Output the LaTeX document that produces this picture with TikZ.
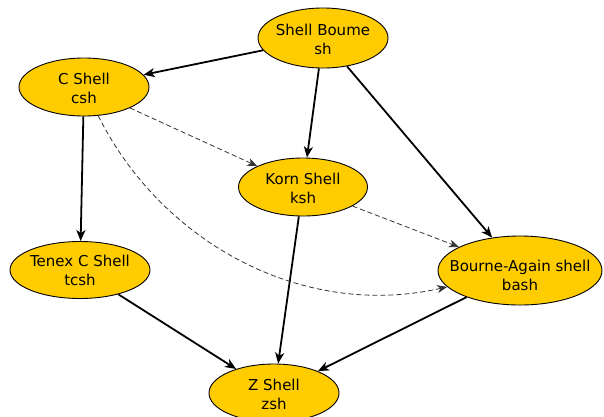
\documentclass[tikz,border=0pt]{standalone}
\usepackage{fontspec}
\setmainfont{DejaVu Sans}
\usetikzlibrary{shapes.geometric,arrows.meta}
\definecolor{shellgold}{RGB}{255,204,0}
% two centred lines that do not widen the ellipse around them;
% the first argument is a strut height that lowers the text a little
\newcommand{\shelllabel}[3]{\rule{0pt}{#1}\makebox[0pt]{#2}\\\makebox[0pt]{#3}}
\begin{document}
\begin{tikzpicture}[x=1pt,y=-1pt,
  shellnode/.style={ellipse,draw=black,line width=0.9pt,fill=shellgold,
    inner sep=0pt,align=center,font=\fontsize{15}{19}\selectfont},
  derive/.style={line width=1.8pt,-{Stealth[length=11pt,width=9pt,inset=3pt]}},
  influence/.style={line width=0.8pt,draw=black!80,dash pattern=on 5pt off 3pt,
    -{Stealth[length=10pt,width=8pt,inset=3pt]}}]
  \useasboundingbox[fill=white] (0,0) rectangle (604,416);

  \node[shellnode,minimum width=130pt,minimum height=60pt] (sh)   at (323,38)    {\shelllabel{14pt}{Shell Boume}{sh}};
  \node[shellnode,minimum width=130pt,minimum height=58pt] (csh)  at (84,87)     {\shelllabel{15pt}{C Shell}{csh}};
  \node[shellnode,minimum width=129pt,minimum height=58pt] (ksh)  at (303,187)   {\shelllabel{15pt}{Korn Shell}{ksh}};
  \node[shellnode,minimum width=140pt,minimum height=57pt] (tcsh) at (80,270)    {\shelllabel{12pt}{Tenex C Shell}{tcsh}};
  \node[shellnode,minimum width=164pt,minimum height=69pt] (bash) at (520,270.5) {\shelllabel{22pt}{Bourne-Again shell}{bash}};
  \node[shellnode,minimum width=130pt,minimum height=58pt] (zsh)  at (274,393)   {\shelllabel{14pt}{Z Shell}{zsh}};

  \draw[derive] (sh) -- (csh);
  \draw[derive] (sh) -- (ksh);
  \draw[derive] (sh) -- (bash);
  \draw[derive] (csh) -- (tcsh);
  \draw[derive] (ksh) -- (zsh);
  \draw[derive] (tcsh) -- (zsh);
  \draw[derive] (bash) -- (zsh);

  \draw[influence] (csh) -- (ksh);
  \draw[influence] (ksh) -- (bash);
  \draw[influence] (csh) .. controls (160,240) and (300,320) .. (bash);
\end{tikzpicture}
\end{document}
